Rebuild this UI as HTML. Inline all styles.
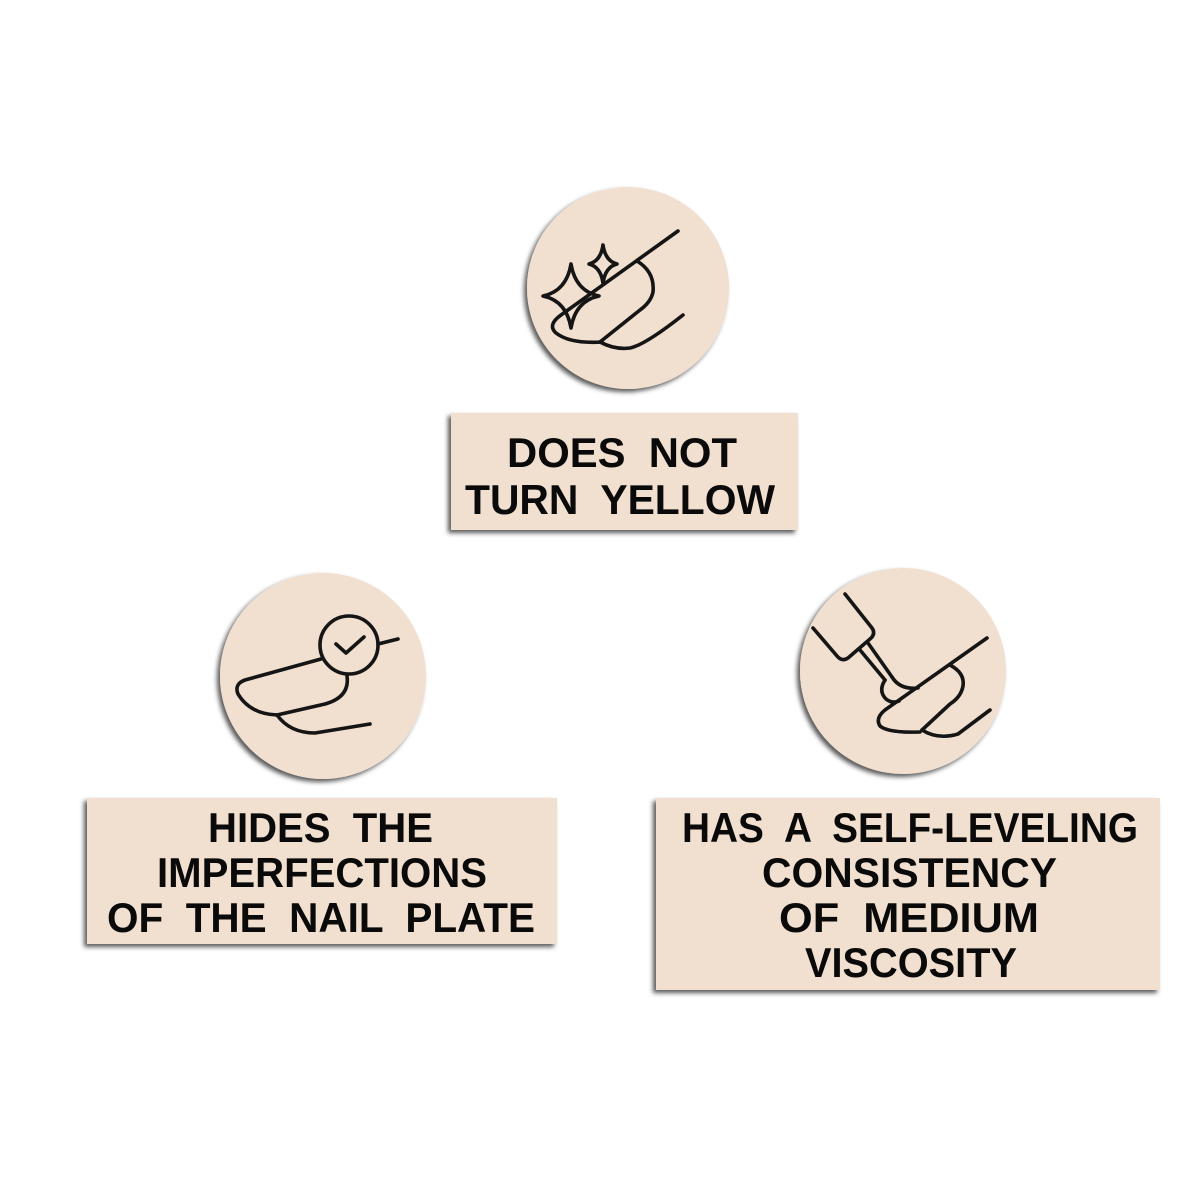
<!DOCTYPE html>
<html>
<head>
<meta charset="utf-8">
<style>
  html, body { margin: 0; padding: 0; background: #ffffff; }
  body { width: 1200px; height: 1200px; overflow: hidden; }
  svg { display: block; }
  .lbl { font-family: "Liberation Sans", "DejaVu Sans", sans-serif; font-weight: bold; font-size: 42px; fill: #0a0a0a; white-space: pre; }
  .ic { fill: none; stroke: #151515; stroke-width: 3.6; stroke-linecap: round; stroke-linejoin: round; }
</style>
</head>
<body>
<svg width="1200" height="1200" viewBox="0 0 1200 1200" xmlns="http://www.w3.org/2000/svg">
  <defs>
    <filter id="sh" x="-10%" y="-10%" width="120%" height="120%">
      <feDropShadow dx="-3" dy="3" stdDeviation="2.5" flood-color="#000" flood-opacity="0.65"/>
    </filter>
  </defs>
  <rect width="1200" height="1200" fill="#ffffff"/>

  <!-- shapes -->
  <g fill="#f1dfcf" filter="url(#sh)">
    <circle cx="628" cy="288" r="101"/>
    <circle cx="323" cy="676" r="103"/>
    <circle cx="903" cy="671" r="103"/>
    <rect x="451" y="413" width="347" height="117"/>
    <rect x="87" y="798" width="470" height="146"/>
    <rect x="656" y="798" width="504" height="192"/>
  </g>

  <!-- top icon: shine -->
  <g class="ic">
    <path d="M678,231 L561,315 Q547,325 556,333 Q570,344 602,342"/>
    <path d="M637,261 Q655,272 653,292 Q651,302 640,310 L600,342"/>
    <path d="M600,342 Q615,350 630,348 Q645,345 683,315"/>
    <path d="M571,264 Q575.5,291 599,296 Q575.5,301 571,328 Q566.5,301 543,296 Q566.5,291 571,264 Z"/>
    <path d="M603,245 Q605.3,261 617,264 Q605.3,267 603,283 Q600.7,267 589,264 Q600.7,261 603,245 Z"/>
  </g>

  <!-- left icon: check -->
  <g class="ic">
    <circle cx="349" cy="645" r="29"/>
    <path d="M336,644 L346,653 L364,637"/>
    <path d="M378,644 L398,639"/>
    <path d="M321,659 L245,680 Q234,684 238,694 Q250,714 277,715"/>
    <path d="M347,676 Q350,697 325,704 L277,715"/>
    <path d="M277,715 Q290,733 315,733 L370,724"/>
  </g>

  <!-- right icon: brush -->
  <g class="ic">
    <path d="M845,594 L872,628 Q876,634 870,639 L848,658 Q842,662 837,656 L813,628"/>
    <path d="M860,650 L885,680"/>
    <path d="M868,643 L892,677"/>
    <path d="M885,680 Q878,691 886,699 Q892,704 899,701"/>
    <path d="M892,677 Q900,690 918,688"/>
    <path d="M987,638 L885,710 Q875,718 880,726 Q888,733 920,732"/>
    <path d="M950,665 Q965,673 963,686 Q961,697 950,704 L922,730"/>
    <path d="M922,730 Q938,740 958,734 L990,710"/>
  </g>

  <!-- labels -->
  <text class="lbl" x="622" y="467" text-anchor="middle" textLength="230" lengthAdjust="spacingAndGlyphs">DOES  NOT</text>
  <text class="lbl" x="620" y="514" text-anchor="middle" textLength="310" lengthAdjust="spacingAndGlyphs">TURN  YELLOW</text>

  <text class="lbl" x="320.5" y="842" text-anchor="middle" textLength="225" lengthAdjust="spacingAndGlyphs">HIDES  THE</text>
  <text class="lbl" x="322" y="887" text-anchor="middle" textLength="330" lengthAdjust="spacingAndGlyphs">IMPERFECTIONS</text>
  <text class="lbl" x="321" y="932" text-anchor="middle" textLength="428" lengthAdjust="spacingAndGlyphs">OF  THE  NAIL  PLATE</text>

  <text class="lbl" x="910" y="842" text-anchor="middle" textLength="456" lengthAdjust="spacingAndGlyphs">HAS  A  SELF-LEVELING</text>
  <text class="lbl" x="909.5" y="887" text-anchor="middle" textLength="295" lengthAdjust="spacingAndGlyphs">CONSISTENCY</text>
  <text class="lbl" x="909" y="932" text-anchor="middle" textLength="260" lengthAdjust="spacingAndGlyphs">OF  MEDIUM</text>
  <text class="lbl" x="911" y="977" text-anchor="middle" textLength="212" lengthAdjust="spacingAndGlyphs">VISCOSITY</text>
</svg>
</body>
</html>
